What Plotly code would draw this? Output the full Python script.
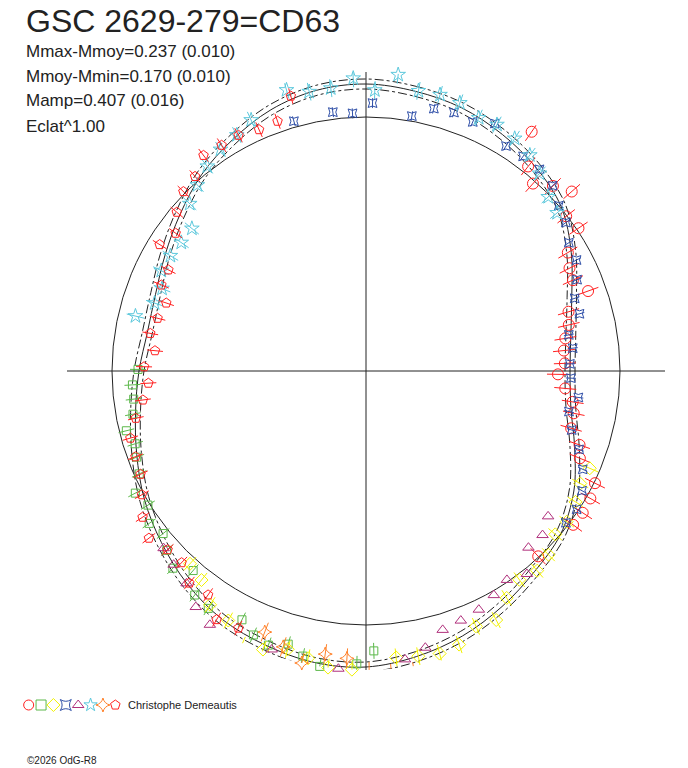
import plotly.graph_objects as go

# angle = phase in degrees (0 at top, clockwise), radius = flux (arbitrary units)
mean_circle = 254
axis_reach = 299

fit_theta = [0, 10, 20, 30, 40, 50, 60, 70, 80, 90, 100, 110, 120, 130, 140, 150, 160, 170,
             180, 190, 200, 210, 220, 230, 240, 250, 260, 270, 280, 290, 300, 310, 320, 330,
             340, 350, 360]
fit_flux = [287, 284, 280, 273, 265, 255, 237, 219, 208, 204, 208, 222, 240, 254, 262, 272, 282, 290,
            296, 296, 292, 287, 278, 267, 256, 244, 234, 227, 222, 224, 232, 243, 256, 267,
            278, 285, 287]
fit_sigma = 5

red_circle_theta = [34.7, 38.4, 41.7, 45.3, 48.9, 52.3, 56.1, 59.6, 63.2, 66.3, 70.2, 73.7, 77.2, 80.7,
                    84.1, 87.8, 91.0, 95.0, 98.5, 101.5, 105.6, 109.1, 112.2, 116.1, 119.6, 123.2,
                    126.6, 137.1]
red_circle_flux = [291, 261, 251, 263, 273, 253, 256, 234, 228, 226, 236, 211, 208, 202,
                   199, 199, 192, 200, 209, 212, 213, 226, 231, 255, 258, 259,
                   258, 253]

green_theta = [178.4, 181.8, 188.9, 192.5, 195.9, 199.6, 203.1, 206.5, 213.6, 217.4, 220.9, 224.4,
               228.0, 231.3, 234.9, 238.4, 242.1, 245.6, 249.4, 252.5, 256.0, 259.5, 263.1, 266.6,
               270.4]
green_flux = [280, 293, 299, 292, 284, 291, 287, 278, 285, 282, 264, 276,
              268, 260, 265, 256, 261, 249, 245, 242, 247, 237, 234, 234,
              228]

yellow_theta = [113.5, 117.7, 122.0, 126.9, 130.8, 135.2, 139.4, 143.7, 148.2, 152.4, 156.7, 161.2,
                165.4, 169.6, 174.0, 182.7, 187.3, 191.4, 195.7, 200.3, 204.4, 208.9, 213.7, 218.2,
                222.4]
yellow_flux = [244, 242, 247, 251, 250, 259, 263, 259, 267, 281, 278, 289,
               292, 290, 288, 299, 299, 293, 289, 297, 301, 285, 281, 266,
               261]

blue_theta = [343.9, 352.7, 357.0, 1.4, 10.2, 14.5, 18.8, 23.2, 27.5, 31.9, 36.2, 40.7, 45.2, 49.4,
              53.4, 57.7, 62.2, 66.6, 70.8, 75.0, 79.9, 83.7, 88.0, 92.0, 97.1, 101.3, 106.0,
              110.2, 114.4, 119.0, 123.3, 127.2]
blue_flux = [260, 261, 258, 268, 259, 271, 273, 271, 279, 265, 266, 266, 263, 254,
             249, 240, 238, 230, 221, 221, 206, 208, 204, 205, 214, 207, 214,
             227, 238, 247, 252, 251]

purple_theta = [128.6, 132.9, 137.4, 141.6, 146.0, 150.3, 154.7, 159.2, 163.5, 167.9, 172.3, 176.6,
                180.8, 185.3, 189.8, 194.2, 198.7, 202.8, 207.2, 211.6, 215.8, 220.2, 224.8, 228.8]
purple_flux = [233, 241, 240, 259, 252, 258, 264, 267, 270, 283, 291, 301,
               309, 299, 314, 322, 294, 310, 307, 298, 291, 278, 273, 269]

cyan_theta = [283.4, 287.8, 292.0, 296.1, 300.5, 304.8, 309.3, 313.5, 317.8, 322.2, 326.7, 331.3,
              335.4, 344.2, 348.5, 352.9, 357.5, 1.8, 6.2, 10.6, 15.0, 19.3, 24.0, 28.0, 32.6,
              37.2, 41.3, 46.3, 50.4]
cyan_flux = [237, 222, 220, 228, 227, 225, 225, 243, 251, 259, 265, 269,
             276, 292, 285, 285, 293, 281, 298, 285, 286, 284, 277, 279, 276,
             271, 263, 252, 248]

orange_theta = [170.9, 175.2, 179.4, 183.8, 188.2, 192.4, 196.7, 201.2]
orange_flux = [305, 304, 301, 288, 286, 299, 288, 280]

pentagon_theta = [206.4, 211.0, 215.2, 219.8, 223.9, 228.0, 232.4, 236.8, 241.1, 245.4, 249.6,
                  254.1, 258.4, 262.6, 266.8, 271.1, 275.5, 279.9, 284.2, 288.8, 292.8, 297.1,
                  301.5, 305.9, 310.0, 314.5, 318.7, 323.0, 327.4, 331.6, 336.1, 340.5, 344.7]
pentagon_flux = [287, 290, 274, 276, 266, 267, 274, 267, 256, 248, 246,
                 245, 235, 225, 218, 222, 212, 219, 215, 211, 222, 222,
                 242, 235, 247, 256, 259, 270, 268, 268, 264, 265, 285]

series = [
    (red_circle_theta, red_circle_flux, "circle-open", "#ff2020", 11, 11),
    (green_theta, green_flux, "square-open", "#5cb84a", 8, 8),
    (yellow_theta, yellow_flux, "diamond-open", "#f2f200", 10, 9),
    (blue_theta, blue_flux, "star-square-open", "#2f4fa8", 8, 5),
    (purple_theta, purple_flux, "triangle-up-open", "#b0307c", 10, 0),
    (cyan_theta, cyan_flux, "star-open", "#5cc8dc", 11, 9),
    (orange_theta, orange_flux, "star-diamond-open", "#ff8028", 10, 10),
    (pentagon_theta, pentagon_flux, "pentagon-open", "#ff2020", 10, 8),
]
observer = "Christophe Demeautis"

fig = go.Figure()

# fitted curve and its envelope
fig.add_trace(go.Scatterpolar(r=[f + fit_sigma for f in fit_flux], theta=fit_theta, mode="lines",
                              line=dict(color="#222222", width=1, dash="dashdot", shape="spline"),
                              hoverinfo="skip", showlegend=False))
fig.add_trace(go.Scatterpolar(r=[f - fit_sigma for f in fit_flux], theta=fit_theta, mode="lines",
                              line=dict(color="#222222", width=1, dash="dashdot", shape="spline"),
                              hoverinfo="skip", showlegend=False))
fig.add_trace(go.Scatterpolar(r=fit_flux, theta=fit_theta, mode="lines",
                              line=dict(color="#222222", width=1, shape="spline"),
                              hoverinfo="skip", showlegend=False))

for theta, flux, symbol, color, size, err in series:
    if err:
        er, et = [], []
        for t, f in zip(theta, flux):
            er += [f - err, f + err, None]
            et += [t, t, None]
        fig.add_trace(go.Scatterpolar(r=er, theta=et, mode="lines",
                                      line=dict(color=color, width=1),
                                      hoverinfo="skip", showlegend=False))
    fig.add_trace(go.Scatterpolar(r=flux, theta=theta, mode="markers",
                                  marker=dict(symbol=symbol, size=size, color=color,
                                              line=dict(color=color, width=1)),
                                  showlegend=False))

# legend row of symbols
fig.add_trace(go.Scatter(x=list(range(len(series))), y=[0] * len(series), mode="markers",
                         marker=dict(symbol=[s[2] for s in series], color=[s[3] for s in series],
                                     size=10, line=dict(color=[s[3] for s in series], width=1)),
                         xaxis="x", yaxis="y", showlegend=False, hoverinfo="skip"))

W, H = 688, 768
cx, cy = 366, 371

fig.update_layout(
    width=W, height=H,
    margin=dict(l=0, r=0, t=0, b=0),
    paper_bgcolor="white",
    plot_bgcolor="white",
    showlegend=False,
    polar=dict(
        domain=dict(x=[(cx - axis_reach) / W, (cx + axis_reach) / W],
                    y=[(H - cy - axis_reach) / H, (H - cy + axis_reach) / H]),
        bgcolor="white",
        radialaxis=dict(range=[0, axis_reach], tickvals=[mean_circle], showticklabels=False,
                        ticks="", showline=False, showgrid=True, gridcolor="#222222", gridwidth=1),
        angularaxis=dict(rotation=90, direction="clockwise", tickvals=[0, 90, 180, 270],
                         showticklabels=False, ticks="", showline=False, showgrid=True,
                         gridcolor="#222222", gridwidth=1),
    ),
    xaxis=dict(domain=[20 / W, 124 / W], range=[-0.7, 7.7], visible=False, fixedrange=True),
    yaxis=dict(domain=[53 / H, 73 / H], range=[-1, 1], visible=False, fixedrange=True),
    font=dict(family="Liberation Sans, Arial, sans-serif", color="#222222"),
)

stats = ["Mmax-Mmoy=0.237 (0.010)", "Mmoy-Mmin=0.170 (0.010)", "Mamp=0.407 (0.016)", "Eclat^1.00"]
fig.add_annotation(text="GSC 2629-279=CD63", x=24 / W, y=1 - 21 / H, xref="paper", yref="paper",
                   xanchor="left", yanchor="middle", showarrow=False, font=dict(size=32))
for i, s in enumerate(stats):
    fig.add_annotation(text=s, x=24 / W, y=1 - (51 + 25 * i) / H, xref="paper", yref="paper",
                       xanchor="left", yanchor="middle", showarrow=False, font=dict(size=17))
fig.add_annotation(text=observer, x=126 / W, y=1 - 705 / H, xref="paper", yref="paper",
                   xanchor="left", yanchor="middle", showarrow=False, font=dict(size=11))
fig.add_annotation(text="©2026 OdG-R8", x=25 / W, y=1 - 760 / H, xref="paper", yref="paper",
                   xanchor="left", yanchor="middle", showarrow=False, font=dict(size=10))

fig.write_html("out.html", config={"displayModeBar": False},
               post_script="document.body.style.margin='0';")
